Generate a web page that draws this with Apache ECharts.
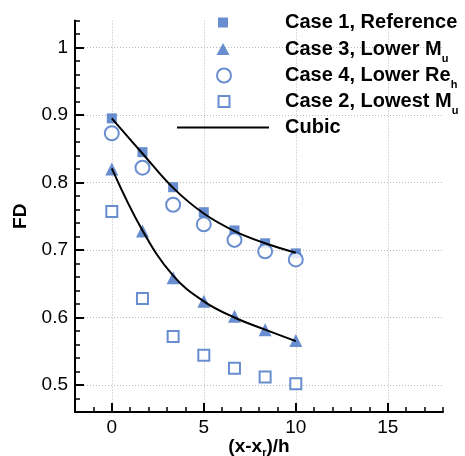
<!DOCTYPE html>
<html>
<head>
<meta charset="utf-8">
<script src="https://cdn.jsdelivr.net/npm/echarts@6/dist/echarts.min.js"></script>
<style>
  html, body { margin: 0; padding: 0; background: #fff; }
  #chart { width: 465px; height: 456px; }
</style>
</head>
<body>
<div id="chart"></div>
<script>
// Streamwise stations, (x - x_r)/h
const xPositions = [0, 1.667, 3.333, 5, 6.667, 8.333, 10];

// FD at each station
const case1Reference = [0.895, 0.845, 0.793, 0.756, 0.729, 0.710, 0.695];
const case3LowerMu   = [0.820, 0.728, 0.659, 0.624, 0.602, 0.582, 0.566];
const case4LowerReh  = [0.873, 0.822, 0.767, 0.738, 0.715, 0.698, 0.686];
const case2LowestMu  = [0.757, 0.628, 0.572, 0.544, 0.525, 0.512, 0.502];

// Cubic curves through Case 1 and Case 3
const cubicCase1 = [0.895, 0.843, 0.792, 0.754, 0.728, 0.710, 0.696];
const cubicCase3 = [0.821, 0.729, 0.662, 0.624, 0.600, 0.582, 0.565];

// Axis ticks
const xMajorTicks = [0, 5, 10, 15];
const xMinorTicks = [-2, -1, 1, 2, 3, 4, 6, 7, 8, 9, 11, 12, 13, 14, 16, 17, 18];
const yMajorTicks = [0.5, 0.6, 0.7, 0.8, 0.9, 1];
const yMinorTicks = [0.46, 0.48, 0.52, 0.54, 0.56, 0.58, 0.62, 0.64, 0.66, 0.68,
                     0.72, 0.74, 0.76, 0.78, 0.82, 0.84, 0.86, 0.88, 0.92, 0.94,
                     0.96, 0.98, 1.02, 1.04];

const seriesNames = ['Case 1, Reference', 'Case 3, Lower M_u', 'Case 4, Lower Re_h',
                     'Case 2, Lowest M_u', 'Cubic'];

const FONT = '"Liberation Sans", Arial, Helvetica, sans-serif';
const BLUE = '#4472c4';

const pairs = ys => xPositions.map((x, i) => [x, ys[i]]);

// "Lower M_u" -> rich text with a subscript
function richLabel(text) {
  const m = text.match(/^(.*)_(\w+)$/);
  if (!m) return '{b|' + text + '}';
  return '{b|' + m[1] + '}{s|' + m[2] + '}';
}

const legendRich = {
  b: { fontFamily: FONT, fontWeight: 'bold', fontSize: 20, color: '#000',
       lineHeight: 30, verticalAlign: 'middle' },
  s: { fontFamily: FONT, fontWeight: 'bold', fontSize: 11, color: '#000',
       lineHeight: 12, verticalAlign: 'bottom' }
};

const axisNameRich = {
  b: { fontFamily: FONT, fontWeight: 'bold', fontSize: 19, color: '#000',
       lineHeight: 22, verticalAlign: 'middle' },
  s: { fontFamily: FONT, fontWeight: 'bold', fontSize: 11, color: '#000',
       lineHeight: 12, verticalAlign: 'bottom' }
};

// One legend block per entry so each icon keeps its own size
const ICON_CX = 223;   // centre of the icon column
const TEXT_X = 285;    // left edge of the legend text column
const legendRows = [
  { name: seriesNames[0], icon: 'rect',        cy: 22.5,  w: 10, h: 10, dx: 0 },
  { name: seriesNames[1], icon: 'triangle',    cy: 49,    w: 13, h: 12, dx: 0 },
  { name: seriesNames[2], icon: 'emptyCircle', cy: 75.5,  w: 14, h: 14, dx: -1 },
  { name: seriesNames[3], icon: 'emptyRect',   cy: 101.5, w: 11, h: 11, dx: -1 },
  { name: seriesNames[4], icon: 'rect',        cy: 127.5, w: 92, h: 2,  dx: 0 }
];

const legends = legendRows.map(r => ({
  data: [{ name: r.name, icon: r.icon }],
  orient: 'vertical',
  left: ICON_CX - r.w / 2,
  top: r.cy - 15,
  padding: 0,
  itemWidth: r.w,
  itemHeight: r.h,
  selectedMode: false,
  formatter: richLabel,
  textStyle: {
    padding: [0, 0, 0, TEXT_X - (ICON_CX + r.w / 2) - 5 + r.dx],
    lineHeight: 30,
    rich: legendRich
  }
}));

const chart = echarts.init(document.getElementById('chart'), null, { renderer: 'canvas' });

chart.setOption({
  animation: false,
  backgroundColor: '#fff',
  grid: { left: 75, right: 22, top: 20.5, bottom: 44, outerBoundsMode: 'none' },
  legend: legends,
  xAxis: [
    {
      type: 'value', min: -2, max: 18, position: 'bottom',
      name: '{b|(x-x}{s|r}{b|)/h}',
      nameLocation: 'middle', nameGap: 24, nameMoveOverlap: false,
      nameTextStyle: { rich: axisNameRich },
      axisLine: { onZero: false, lineStyle: { color: '#000', width: 2 } },
      axisTick: { inside: true, length: 9, customValues: xMajorTicks,
                  lineStyle: { color: '#000', width: 2 } },
      axisLabel: { customValues: xMajorTicks, margin: 6, color: '#000',
                   fontFamily: FONT, fontSize: 19 },
      splitLine: { show: true, lineStyle: { color: '#bbb', width: 1, type: [1, 2] } }
    },
    {
      type: 'value', min: -2, max: 18, position: 'bottom',
      axisLine: { show: false, onZero: false },
      axisTick: { inside: true, length: 5, customValues: xMinorTicks,
                  lineStyle: { color: '#000', width: 1.5 } },
      axisLabel: { show: false },
      splitLine: { show: false }
    }
  ],
  yAxis: [
    {
      type: 'value', min: 0.46, max: 1.04, position: 'left',
      name: 'FD', nameLocation: 'middle', nameGap: 45, nameMoveOverlap: false,
      nameTextStyle: { fontFamily: FONT, fontWeight: 'bold', fontSize: 19, color: '#000' },
      axisLine: { onZero: false, lineStyle: { color: '#000', width: 2 } },
      axisTick: { inside: true, length: 9, customValues: yMajorTicks,
                  lineStyle: { color: '#000', width: 2 } },
      axisLabel: { customValues: yMajorTicks, margin: 7, color: '#000',
                   fontFamily: FONT, fontSize: 19 },
      splitLine: { show: true, lineStyle: { color: '#bbb', width: 1, type: [1, 2] } }
    },
    {
      type: 'value', min: 0.46, max: 1.04, position: 'left',
      axisLine: { show: false, onZero: false },
      axisTick: { inside: true, length: 5, customValues: yMinorTicks,
                  lineStyle: { color: '#000', width: 1.5 } },
      axisLabel: { show: false },
      splitLine: { show: false }
    }
  ],
  series: [
    {
      name: seriesNames[0], type: 'scatter', data: pairs(case1Reference),
      symbol: 'rect', symbolSize: 10, itemStyle: { color: BLUE }, z: 2
    },
    {
      name: seriesNames[1], type: 'scatter', data: pairs(case3LowerMu),
      symbol: 'triangle', symbolSize: 13, itemStyle: { color: BLUE }, z: 2
    },
    {
      name: seriesNames[2], type: 'scatter', data: pairs(case4LowerReh),
      symbol: 'emptyCircle', symbolSize: 14,
      itemStyle: { color: BLUE, borderColor: BLUE, borderWidth: 1.5 }, z: 3
    },
    {
      name: seriesNames[3], type: 'scatter', data: pairs(case2LowestMu),
      symbol: 'emptyRect', symbolSize: 11,
      itemStyle: { color: BLUE, borderColor: BLUE, borderWidth: 1.5 }, z: 3
    },
    {
      name: seriesNames[4], type: 'line', data: pairs(cubicCase1),
      smooth: 0.4, symbol: 'none', lineStyle: { color: '#000', width: 2 },
      itemStyle: { color: '#000' }, z: 4
    },
    {
      name: seriesNames[4], type: 'line', data: pairs(cubicCase3),
      smooth: 0.4, symbol: 'none', lineStyle: { color: '#000', width: 2 },
      itemStyle: { color: '#000' }, z: 4
    }
  ]
});
</script>
</body>
</html>
